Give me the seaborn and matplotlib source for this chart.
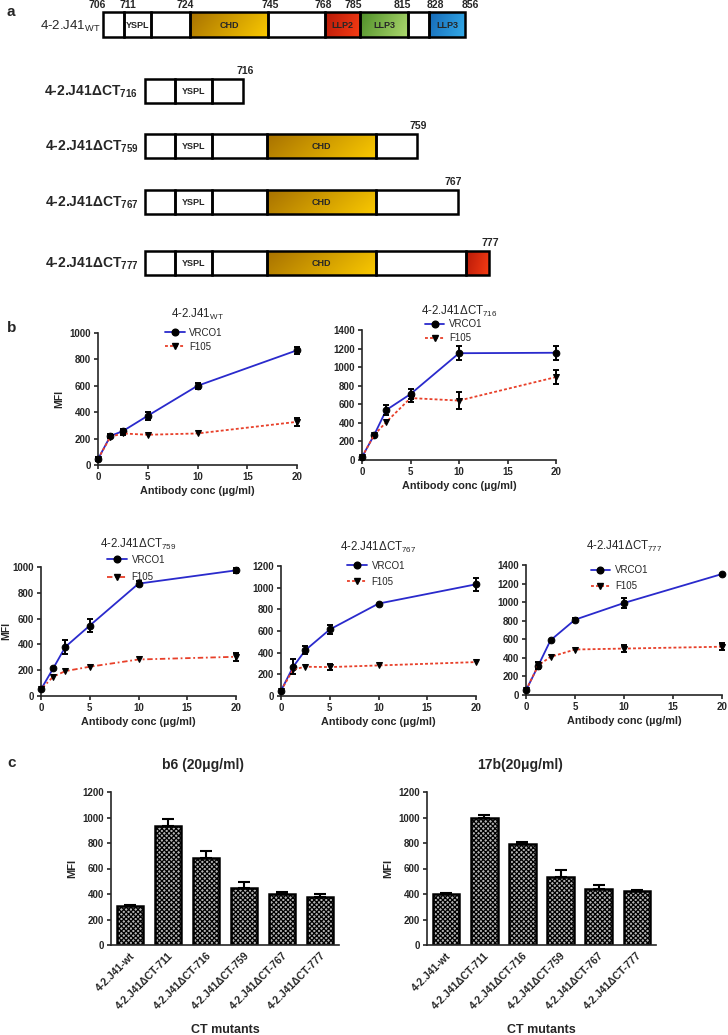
import matplotlib
matplotlib.use("Agg")
import matplotlib.pyplot as plt
from matplotlib.patches import Rectangle
from matplotlib.lines import Line2D
from matplotlib.colors import LinearSegmentedColormap
import numpy as np
import pandas as pd
import seaborn as sns

# ---- panel a: cytoplasmic tail domain maps
wt_residues = [706, 711, 724, 745, 768, 785, 815, 828, 856]
wt_domains = ["", "YSPL", "", "CHD", "", "LLP2", "LLP3", "", "LLP3"]
mutant_ends = [716, 759, 767, 777]
mutant_domains = [
    ["", "YSPL", ""],
    ["", "YSPL", "", "CHD", ""],
    ["", "YSPL", "", "CHD", ""],
    ["", "YSPL", "", "CHD", "", ""],
]

# ---- panel b: binding vs antibody concentration
conc = [0, 1.25, 2.5, 5, 10, 20]
panel_titles = ["4-2.J41$_\\mathrm{WT}$", "4-2.J41ΔCT$_\\mathrm{716}$",
                "4-2.J41ΔCT$_\\mathrm{759}$", "4-2.J41ΔCT$_\\mathrm{767}$",
                "4-2.J41ΔCT$_\\mathrm{777}$"]
vrco1 = [
    [45, 220, 257, 373, 600, 869],
    [32, 269, 538, 710, 1150, 1155],
    [52, 214, 381, 546, 871, 974],
    [49, 270, 423, 614, 853, 1031],
    [50, 316, 589, 811, 991, 1303],
]
vrco1_err = [
    [12, 12, 15, 31, 24, 25],
    [0, 0, 54, 54, 75, 75],
    [0, 0, 52, 50, 20, 20],
    [0, 68, 37, 46, 0, 60],
    [0, 36, 0, 22, 54, 0],
]
f105 = [
    [45, 214, 239, 229, 239, 327],
    [32, 269, 409, 667, 640, 893],
    [52, 150, 193, 227, 283, 304],
    [49, 245, 270, 267, 282, 313],
    [50, 320, 410, 490, 500, 520],
]
f105_err = [
    [0, 0, 15, 0, 0, 31],
    [0, 0, 0, 40, 93, 75],
    [0, 0, 0, 0, 0, 30],
    [0, 0, 0, 30, 0, 0],
    [0, 0, 0, 0, 40, 40],
]
y_max = [1000, 1400, 1000, 1200, 1400]

# ---- panel c: b6 / 17b binding
mutants = ["4-2.J41-wt", "4-2.J41ΔCT-711", "4-2.J41ΔCT-716",
           "4-2.J41ΔCT-759", "4-2.J41ΔCT-767", "4-2.J41ΔCT-777"]
b6 = [306, 937, 681, 448, 398, 380]
b6_err = [10, 50, 57, 44, 18, 20]
b17 = [398, 995, 790, 531, 440, 427]
b17_err = [8, 26, 16, 55, 31, 6]

sns.set_style("ticks")
plt.rcParams["font.family"] = ["Liberation Sans", "DejaVu Sans"]
plt.rcParams["mathtext.fontset"] = "custom"
plt.rcParams["mathtext.rm"] = "Liberation Sans"
plt.rcParams["mathtext.bf"] = "Liberation Sans:bold"
plt.rcParams["mathtext.it"] = "Liberation Sans:italic"
plt.rcParams["hatch.linewidth"] = 0.9
plt.rcParams["axes.linewidth"] = 1.2

W, H = 728, 1035
fig = plt.figure(figsize=(W / 100, H / 100), dpi=100)


def px_axes(l, t, r, b):
    return fig.add_axes([l / W, 1 - b / H, (r - l) / W, (b - t) / H])


def bold_ticks(ax, size):
    ax.tick_params(labelsize=size, width=1.2, length=3, direction="out", pad=2)
    for lbl in ax.get_xticklabels() + ax.get_yticklabels():
        lbl.set_fontweight("bold")


# ================= panel a =================
ax_a = px_axes(0, 0, W, 290)
ax_a.axis("off")

fills = {
    "gold": ("#a87200", "#f9c800"),
    "red": ("#b81a08", "#f63c14"),
    "green": ("#4f8f28", "#acd86e"),
    "blue": ("#166ab8", "#33aae8"),
}
wt_edges = [103, 124, 151, 190, 268, 325, 360, 408, 429, 465]
wt_label_x = [97, 128, 185, 270, 323, 353, 402, 435, 470]
wt_fill = [None, None, None, "gold", None, "red", "green", None, "blue"]
mut_edges = [
    [145, 175, 212, 243],
    [145, 175, 212, 267, 376, 417],
    [145, 175, 212, 267, 376, 458],
    [145, 175, 212, 267, 376, 466, 489],
]
mut_label_x = [245, 418, 453, 490]
mut_fill = [
    [None, None, None],
    [None, None, None, "gold", None],
    [None, None, None, "gold", None],
    [None, None, None, "gold", None, "red"],
]
mut_rows = [(79, 103), (134, 158), (190, 214), (251, 275)]


def draw_bar(edges, names, fill, top, bot):
    for i, name in enumerate(names):
        x0, x1 = edges[i], edges[i + 1]
        if fill[i] is not None:
            cmap = LinearSegmentedColormap.from_list("g", fills[fill[i]])
            gx, gy = np.meshgrid(np.linspace(0, 1, 60), np.linspace(0, 1, 20))
            ax_a.imshow(gx * 0.8 + gy * 0.2, cmap=cmap, extent=(x0, x1, bot, top),
                        aspect="auto", zorder=1, interpolation="bilinear")
        ax_a.add_patch(Rectangle((x0, top), x1 - x0, bot - top, fill=False,
                                 ec="black", lw=1.8, zorder=2))
        if name:
            ax_a.text((x0 + x1) / 2, (top + bot) / 2 + 0.5, name, ha="center",
                      va="center", fontsize=6.5, fontweight="bold", zorder=3)


draw_bar(wt_edges, wt_domains, wt_fill, 12, 37)
for res, x in zip(wt_residues, wt_label_x):
    ax_a.text(x, 5.5, str(res), ha="center", va="center",
              fontsize=7.5, fontweight="bold")
ax_a.text(100, 26, "4-2.J41$_\\mathrm{WT}$", ha="right", va="center", fontsize=9.5)

for k, end in enumerate(mutant_ends):
    top, bot = mut_rows[k]
    draw_bar(mut_edges[k], mutant_domains[k], mut_fill[k], top, bot)
    ax_a.text(mut_label_x[k], top - 8, str(end), ha="center", va="center",
              fontsize=7.5, fontweight="bold")
    ax_a.text(138, (top + bot) / 2 + 1, "4-2.J41ΔCT$_\\mathbf{%d}$" % end,
              ha="right", va="center", fontsize=10, fontweight="bold")
ax_a.set_xlim(0, W)
ax_a.set_ylim(290, 0)

# ================= panel b =================
blue = "#2a2acc"
red = "#e8402a"
b_boxes = [(98, 333, 297, 465), (362, 330, 556, 460),
           (41, 567, 236, 696), (281, 566, 476, 696), (526, 565, 722, 695)]
leg_anchor = [(0.337, 0.95), (0.325, 0.99), (0.34, 0.99), (0.34, 0.94), (0.33, 0.9)]
leg_space = [0.4, 0.4, 0.75, 0.6, 0.6]
title_pad = [11, 11, 14, 11, 11]
f105_ls = [(0, (1.6, 1.2)), (0, (1.6, 1.2)), (0, (3, 1.5, 1, 1.5)),
           (0, (1.6, 1.2)), (0, (1.6, 1.2))]

for k in range(5):
    ax = px_axes(*b_boxes[k])
    sns.lineplot(x=conc, y=vrco1[k], color=blue, lw=1.3, marker="o", ms=4.8,
                 mfc="black", mec="black", ax=ax, clip_on=False, zorder=3)
    sns.lineplot(x=conc, y=f105[k], color=red, lw=1.3, linestyle=f105_ls[k],
                 marker="v", ms=4.8, mfc="black", mec="black", ax=ax,
                 clip_on=False, zorder=3)
    for vals, errs in ((vrco1[k], vrco1_err[k]), (f105[k], f105_err[k])):
        m = np.array(errs) > 0
        ax.errorbar(np.array(conc)[m], np.array(vals)[m], yerr=np.array(errs)[m],
                    fmt="none", ecolor="black", elinewidth=1.4, capsize=2.2,
                    capthick=1.4, clip_on=False, zorder=4)
    ax.set_xlim(0, 20)
    ax.set_ylim(0, y_max[k])
    ax.set_xticks([0, 5, 10, 15, 20])
    ax.set_yticks(np.arange(0, y_max[k] + 1, 200))
    sns.despine(ax=ax)
    bold_ticks(ax, 7)
    ax.set_xlabel("Antibody conc (µg/ml)", fontsize=7.8, fontweight="bold", labelpad=3)
    ax.set_ylabel("MFI" if k in (0, 2) else "", fontsize=7.5, fontweight="bold",
                  labelpad=1 if k == 2 else 4)
    ax.set_title(panel_titles[k], fontsize=8.3, pad=title_pad[k])
    handles = [
        Line2D([], [], color=blue, lw=1.3, marker="o", ms=4.8, mfc="black", mec="black"),
        Line2D([], [], color=red, lw=1.3, linestyle=f105_ls[k], marker="v", ms=4.8,
               mfc="black", mec="black"),
    ]
    ax.legend(handles, ["VRCO1", "F105"], loc="center left", bbox_to_anchor=leg_anchor[k],
              frameon=False, fontsize=7, handlelength=2.0, handletextpad=0.5,
              labelspacing=leg_space[k], borderpad=0, borderaxespad=0)

# ================= panel c =================
c_boxes = [(111, 792, 339, 945), (427, 792, 656, 945)]
c_titles = ["b6 (20μg/ml)", "17b(20μg/ml)"]
c_title_x = [203, 520]
for k, (vals, errs) in enumerate(((b6, b6_err), (b17, b17_err))):
    ax = px_axes(*c_boxes[k])
    sns.barplot(x=mutants, y=vals, color="#b4b4b4", edgecolor="black", linewidth=1.8,
                width=0.7, hatch="xxxxxxx", ax=ax, saturation=1)
    ax.errorbar(np.arange(len(vals)), vals, yerr=[np.zeros(len(vals)), errs], fmt="none",
                ecolor="black", elinewidth=1.5, capsize=4, capthick=1.5, zorder=1)
    ax.set_xlim(-0.5, 5.5)
    ax.set_ylim(0, 1200)
    ax.set_yticks(np.arange(0, 1201, 200))
    sns.despine(ax=ax)
    bold_ticks(ax, 7)
    ax.tick_params(axis="x", length=0, pad=4)
    plt.setp(ax.get_xticklabels(), rotation=45, ha="right", rotation_mode="anchor",
             fontsize=7.5)
    ax.set_xlabel("CT mutants", fontsize=9, fontweight="bold", labelpad=9)
    ax.set_ylabel("MFI", fontsize=8, fontweight="bold")
    fig.text(c_title_x[k] / W, 1 - 765 / H, c_titles[k], ha="center", va="center",
             fontsize=10, fontweight="bold")

# panel letters
for letter, (x, y) in zip("abc", [(11, 12), (12, 328), (12, 763)]):
    fig.text(x / W, 1 - y / H, letter, ha="center", va="center", fontsize=11,
             fontweight="bold")

fig.savefig("out.png", dpi=100, facecolor="white")
